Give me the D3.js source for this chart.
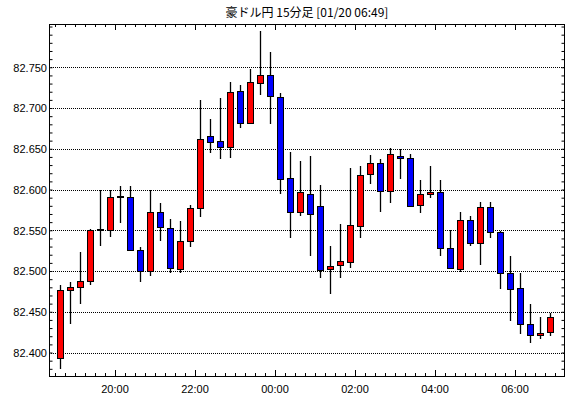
<!DOCTYPE html>
<html>
<head>
<meta charset="utf-8">
<script src="https://cdn.jsdelivr.net/npm/d3@7"></script>
<style>
  body { margin: 0; background: #fff; }
  svg { display: block; }
</style>
</head>
<body>
<div id="chart"></div>
<script>
// chart title
const title = '豪ドル円 15分足 [01/20 06:49]';

// 15-minute bars, 18:30 -> 06:45
const times = [
  '18:30', '18:45', '19:00', '19:15', '19:30', '19:45', '20:00', '20:15', '20:30', '20:45',
  '21:00', '21:15', '21:30', '21:45', '22:00', '22:15', '22:30', '22:45', '23:00', '23:15',
  '23:30', '23:45', '00:00', '00:15', '00:30', '00:45', '01:00', '01:15', '01:30', '01:45',
  '02:00', '02:15', '02:30', '02:45', '03:00', '03:15', '03:30', '03:45', '04:00', '04:15',
  '04:30', '04:45', '05:00', '05:15', '05:30', '05:45', '06:00', '06:15', '06:30', '06:45'
];

const opens = [
  82.394, 82.477, 82.481, 82.488, 82.550, 82.550, 82.592, 82.591, 82.526, 82.500,
  82.572, 82.553, 82.503, 82.536, 82.577, 82.666, 82.660, 82.653, 82.721, 82.682,
  82.730, 82.740, 82.714, 82.614, 82.572, 82.595, 82.580, 82.502, 82.507, 82.512,
  82.556, 82.618, 82.632, 82.598, 82.641, 82.639, 82.580, 82.594, 82.597, 82.528,
  82.503, 82.563, 82.535, 82.579, 82.548, 82.498, 82.479, 82.435, 82.421, 82.426
];
const highs = [
  82.483, 82.486, 82.523, 82.552, 82.600, 82.600, 82.604, 82.604, 82.530, 82.600,
  82.584, 82.564, 82.561, 82.581, 82.710, 82.687, 82.712, 82.732, 82.728, 82.748,
  82.794, 82.769, 82.719, 82.646, 82.635, 82.641, 82.606, 82.531, 82.558, 82.627,
  82.629, 82.642, 82.637, 82.651, 82.650, 82.644, 82.612, 82.629, 82.612, 82.550,
  82.573, 82.567, 82.585, 82.585, 82.549, 82.519, 82.498, 82.460, 82.444, 82.448
];
const lows = [
  82.380, 82.435, 82.459, 82.483, 82.531, 82.542, 82.559, 82.526, 82.487, 82.494,
  82.537, 82.498, 82.498, 82.530, 82.566, 82.645, 82.638, 82.639, 82.676, 82.680,
  82.716, 82.680, 82.595, 82.540, 82.567, 82.519, 82.491, 82.472, 82.492, 82.504,
  82.541, 82.607, 82.573, 82.584, 82.613, 82.580, 82.571, 82.590, 82.518, 82.503,
  82.499, 82.531, 82.507, 82.540, 82.478, 82.439, 82.423, 82.412, 82.417, 82.420
];
const closes = [
  82.477, 82.481, 82.488, 82.550, 82.551, 82.591, 82.591, 82.526, 82.500, 82.572,
  82.553, 82.504, 82.537, 82.577, 82.662, 82.659, 82.653, 82.720, 82.682, 82.732,
  82.740, 82.714, 82.614, 82.572, 82.597, 82.570, 82.502, 82.506, 82.512, 82.557,
  82.618, 82.632, 82.598, 82.643, 82.639, 82.580, 82.594, 82.597, 82.528, 82.504,
  82.563, 82.535, 82.579, 82.548, 82.498, 82.478, 82.435, 82.421, 82.424, 82.444
];

// axis labels
const yTicks = [82.400, 82.450, 82.500, 82.550, 82.600, 82.650, 82.700, 82.750];
const xLabels = ['20:00', '22:00', '00:00', '02:00', '04:00', '06:00'];

const width = 570;
const height = 398;
// plot box
const box = { left: 49, right: 565, top: 24, bottom: 376 };

const colors = { up: '#ff0000', down: '#0000ff', line: '#000' };

const svg = d3.select('#chart').append('svg')
  .attr('width', width)
  .attr('height', height)
  .style('font-family', '"Liberation Sans", Arial, sans-serif');

// scales
const x = d3.scaleBand()
  .domain(times)
  .range([55, 555])
  .padding(0);

const y = d3.scaleLinear()
  .domain([82.3712, 82.8031])
  .range([box.bottom, box.top]);

const crisp = v => Math.round(v) + 0.5;

// title
svg.append('text')
  .attr('x', (box.left + box.right) / 2)
  .attr('y', 17)
  .attr('text-anchor', 'middle')
  .style('font-family', '"Noto Sans CJK JP", sans-serif')
  .style('font-size', '12px')
  .style('fill', '#000')
  .text(title);

// dotted grid lines
svg.append('g')
  .selectAll('line')
  .data(yTicks)
  .join('line')
  .attr('x1', box.left)
  .attr('x2', box.right)
  .attr('y1', d => crisp(y(d)))
  .attr('y2', d => crisp(y(d)))
  .style('stroke', colors.line)
  .style('stroke-width', 1)
  .style('stroke-dasharray', '1,1');

// left / right axes, ticks inside the box
const minorY = d3.range(82.38, 82.80, 0.01);

const gl = svg.append('g')
  .attr('transform', `translate(${box.left + 0.5},0)`)
  .call(d3.axisLeft(y).tickValues(minorY).tickSize(-3).tickFormat(''));
gl.select('.domain').remove();

const gr = svg.append('g')
  .attr('transform', `translate(${box.right - 0.5},0)`)
  .call(d3.axisRight(y).tickValues(minorY).tickSize(-3).tickFormat(''));
gr.select('.domain').remove();

// y tick labels
svg.append('g')
  .selectAll('text')
  .data(yTicks)
  .join('text')
  .attr('x', 47)
  .attr('y', d => y(d))
  .attr('dy', '0.4em')
  .attr('text-anchor', 'end')
  .style('font-size', '11px')
  .style('fill', '#000')
  .text(d => d3.format('.3f')(d));

// time ticks at each bar boundary, top and bottom
const boundaries = times.map(t => x(t))
  .concat([x(times[times.length - 1]) + x.bandwidth()])
  .filter(b => b < box.right);
const isMajor = px => xLabels.some(l => x(l) === px);

svg.append('g')
  .selectAll('line')
  .data(boundaries)
  .join('line')
  .attr('x1', d => crisp(d))
  .attr('x2', d => crisp(d))
  .attr('y1', box.bottom)
  .attr('y2', d => box.bottom - (isMajor(d) ? 6 : 3))
  .style('stroke', colors.line);

svg.append('g')
  .selectAll('line')
  .data(boundaries)
  .join('line')
  .attr('x1', d => crisp(d))
  .attr('x2', d => crisp(d))
  .attr('y1', box.top)
  .attr('y2', d => box.top + (isMajor(d) ? 6 : 3))
  .style('stroke', colors.line);

// x labels
svg.append('g')
  .selectAll('text')
  .data(xLabels)
  .join('text')
  .attr('x', d => x(d))
  .attr('y', 393)
  .attr('text-anchor', 'middle')
  .style('font-size', '11px')
  .style('fill', '#000')
  .text(d => d);

// plot border
svg.append('rect')
  .attr('x', box.left + 0.5)
  .attr('y', box.top + 0.5)
  .attr('width', box.right - box.left - 1)
  .attr('height', box.bottom - box.top)
  .style('fill', 'none')
  .style('stroke', colors.line)
  .style('stroke-width', 1);

// candles
const candles = times.map((t, i) => ({
  t: t, o: opens[i], h: highs[i], l: lows[i], c: closes[i]
}));

const cg = svg.append('g');

cg.selectAll('line.wick')
  .data(candles)
  .join('line')
  .attr('class', 'wick')
  .attr('x1', d => x(d.t) + x.bandwidth() / 2 + 0.5)
  .attr('x2', d => x(d.t) + x.bandwidth() / 2 + 0.5)
  .attr('y1', d => Math.round(y(d.h)))
  .attr('y2', d => Math.round(y(d.l)))
  .style('stroke', colors.line)
  .style('stroke-width', 1.3);

cg.selectAll('rect.body')
  .data(candles)
  .join('rect')
  .attr('class', 'body')
  .attr('x', d => x(d.t) + x.bandwidth() / 2 - 2.5)
  .attr('width', 6)
  .attr('y', d => crisp(y(Math.max(d.o, d.c))))
  .attr('height', d => Math.max(1, Math.round(Math.abs(y(d.o) - y(d.c)))))
  .style('fill', d => d.c >= d.o ? colors.up : colors.down)
  .style('stroke', colors.line)
  .style('stroke-width', 1);
</script>
</body>
</html>
